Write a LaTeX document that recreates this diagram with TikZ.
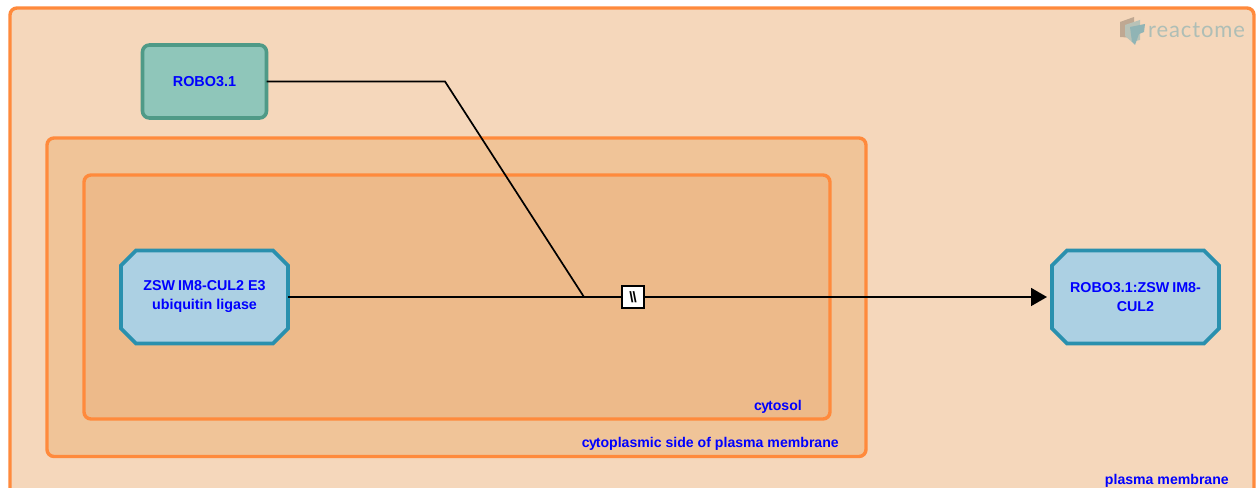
\documentclass[tikz,border=0pt]{standalone}
\usepackage{fontspec}
\setmainfont{Liberation Sans}
\newfontfamily\logofont[LetterSpace=4]{Lato}
\usetikzlibrary{arrows.meta,shapes.misc}
\definecolor{orangeline}{HTML}{FF8A3C}
\definecolor{plasmafill}{HTML}{F5D7BB}
\definecolor{cytoplfill}{HTML}{F0C498}
\definecolor{cytosolfill}{HTML}{EDBA8A}
\definecolor{protfill}{HTML}{8FC6BA}
\definecolor{protline}{HTML}{4F9A87}
\definecolor{cplxfill}{HTML}{ACD0E3}
\definecolor{cplxline}{HTML}{2A90AE}
\definecolor{labelblue}{HTML}{0000FF}
\colorlet{logocol}{cplxline!35!plasmafill}
\tikzset{
  x=1bp,y=-1bp,
  compartment/.style={draw=orangeline,line width=3.4bp,rounded corners=7bp},
  complabel/.style={text=labelblue,font=\fontsize{14.1bp}{15bp}\selectfont\bfseries,inner sep=0pt,anchor=base east},
  protein/.style={draw=protline,fill=protfill,line width=3.6bp,rounded corners=7bp,outer sep=0pt,
    minimum width=124bp,minimum height=73bp,align=center,text=labelblue,
    font=\fontsize{14.4bp}{19bp}\selectfont\bfseries},
  complex/.style={chamfered rectangle,chamfered rectangle xsep=7.5bp,chamfered rectangle ysep=7.5bp,
    draw=cplxline,fill=cplxfill,line width=3.6bp,outer sep=0pt,inner sep=0pt,
    minimum width=167bp,minimum height=93bp,align=center,text=labelblue,
    font=\fontsize{14.3bp}{19bp}\selectfont\bfseries},
  reaction/.style={draw=black,fill=white,line width=1.4bp,outer sep=0pt,inner sep=0pt,
    minimum width=22bp,minimum height=22bp,font=\fontsize{15bp}{15bp}\selectfont\bfseries},
  edge/.style={draw=black,line width=1.7bp},
  logotext/.style={text=logocol,font=\logofont\fontsize{22bp}{22bp}\selectfont,inner sep=0pt,anchor=base west},
}
\begin{document}
\begin{tikzpicture}
\useasboundingbox (0,0) rectangle (1256,488);
\clip (0,0) rectangle (1256,488);
\fill[white] (0,0) rectangle (1256,488);
% compartments
\draw[compartment,fill=plasmafill] (10,8) rectangle (1254,510);
\draw[compartment,fill=cytoplfill] (47,138) rectangle (866,456.5);
\draw[compartment,fill=cytosolfill] (84,175) rectangle (830,419);
\node[complabel] (lplasma) at (1229,484) {plasma membrane};
\node[complabel] (lcyto) at (839,447) {c\kern-0.4pt y\kern-1.2pt toplasmic side of plasma membrane};
\node[complabel] (lsol) at (802,410) {c\kern-0.4pt y\kern-1.2pt tosol};
% logo
\fill[black!22!plasmafill] (1120,22) -- (1134,17) -- (1134,38) -- (1120,37) -- cycle;
\fill[cplxline!30!plasmafill] (1125,25) -- (1140,20) -- (1140,40) -- (1132,42) -- (1125,36) -- cycle;
\fill[cplxline!50!plasmafill] (1130,27) -- (1145,24) -- (1144,32) -- (1139,34) -- (1135,45) -- (1132,42) -- cycle;
\node[logotext] (logo) at (1148,38) {reactome};
% entities
\node[protein] (robo) at (204.5,81.5) {ROBO3.1};
\node[complex] (zsw) at (204.5,297) {ZSW\kern3pt IM8-CUL2 E3\\ubiquitin ligase};
\node[complex] (prod) at (1135.5,297) {ROBO3.1:ZSW\kern3pt IM8-\\CUL2};
\coordinate (bend) at (445,81.5);
\coordinate (join) at (584,297);
\node[reaction] (rx) at (633,297) {\textbackslash\kern-1pt\textbackslash};
% connectors
\draw[edge] (robo.east) -- (bend) -- (join);
\draw[edge] (zsw.east) -- (join) -- (rx.west);
\draw[edge,-{Triangle[length=16bp,width=18bp]},shorten >=5bp] (rx.east) -- (prod.west);
\end{tikzpicture}
\end{document}
